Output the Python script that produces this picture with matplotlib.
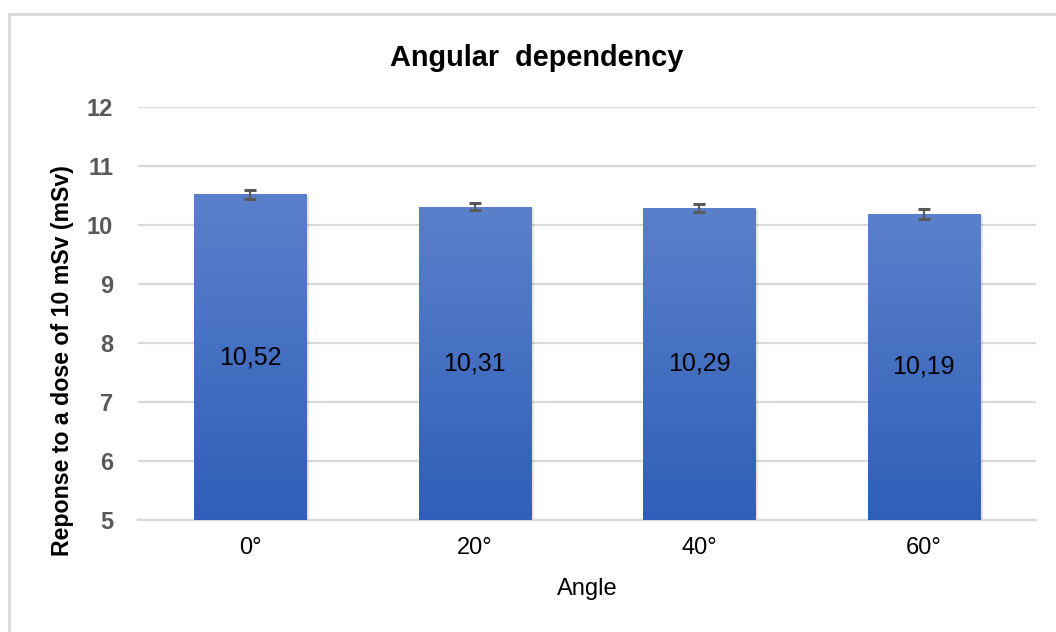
import numpy as np
import matplotlib
matplotlib.use('Agg')
from matplotlib import pyplot as plt
from matplotlib.colors import LinearSegmentedColormap

plt.rcParams['font.family'] = ['Liberation Sans', 'DejaVu Sans']

# data
angles = ['0°', '20°', '40°', '60°']
response = [10.52, 10.31, 10.29, 10.19]
errors = [0.08, 0.06, 0.07, 0.08]

fig = plt.figure(figsize=(10.56, 6.32), dpi=100)
ax = fig.add_axes([138/1056, 1-520/632, 898/1056, 413/632])

# frame of the chart area (left and top edge visible)
fig.add_artist(plt.Line2D([9/1056, 9/1056], [0, 1-14/632], transform=fig.transFigure,
                          color='#d9d9d9', lw=2))
fig.add_artist(plt.Line2D([9/1056, 1], [1-14/632, 1-14/632], transform=fig.transFigure,
                          color='#d9d9d9', lw=2))

x = np.arange(len(angles))
base = 5
bars = ax.bar(x, np.array(response) - base, bottom=base, width=0.5, color='#4472c4',
              zorder=3)

# vertical gradient on each bar
cmap = LinearSegmentedColormap.from_list('blue', ['#2f5fb8', '#5b80cb'])
grad = np.linspace(0, 1, 256).reshape(-1, 1)
for b in bars:
	x0, y0 = b.get_x(), b.get_y()
	w, h = b.get_width(), b.get_height()
	# soft shadow on the right
	ax.bar(x0 + w/2 + 0.012, h, bottom=y0 - 0.03, width=w, color='#000000', alpha=0.10,
	       zorder=2.5)
	im = ax.imshow(grad, extent=[x0, x0 + w, y0, y0 + h], origin='lower', cmap=cmap,
	               aspect='auto', zorder=3.2)
	im.set_clip_path(b)

ax.errorbar(x, response, yerr=errors, fmt='none', ecolor='#595959', elinewidth=1.6,
            capsize=4.5, capthick=2.2, zorder=4)

for xi, v in zip(x, response):
	ax.text(xi, (base + v) / 2, ('%.2f' % v).replace('.', ','), ha='center', va='center',
	        fontsize=18, color='#000000', zorder=5)

ax.set_xlim(-0.5, len(angles) - 0.5)
ax.set_ylim(5, 12)
ax.set_yticks(range(5, 13))
ax.set_xticks(x)
ax.set_xticklabels(angles, fontsize=17, color='#000000')
for t in ax.get_yticklabels():
	t.set_fontsize(17)
	t.set_fontweight('bold')
	t.set_color('#595959')
ax.tick_params(axis='both', length=0)
ax.tick_params(axis='y', pad=18)
ax.tick_params(axis='x', pad=12)

ax.grid(axis='y', color='#d9d9d9', lw=1.6, zorder=0)
for s in ['top', 'right', 'left']:
	ax.spines[s].set_visible(False)
ax.spines['bottom'].set_color('#d9d9d9')
ax.spines['bottom'].set_linewidth(1.6)

fig.text(537/1056, 1-58/632, 'Angular  dependency', fontsize=20.8, fontweight='bold',
         ha='center', va='center')
ax.set_xlabel('Angle', fontsize=17, va='center')
ax.xaxis.set_label_coords(0.5, (520-589)/413)
ax.set_ylabel('Reponse to a dose of 10 mSv (mSv)', fontsize=16.7, fontweight='bold',
              va='center', ha='center')
ax.yaxis.set_label_coords((63-138)/898, (520-361)/413)

fig.savefig('out.png', dpi=100)
